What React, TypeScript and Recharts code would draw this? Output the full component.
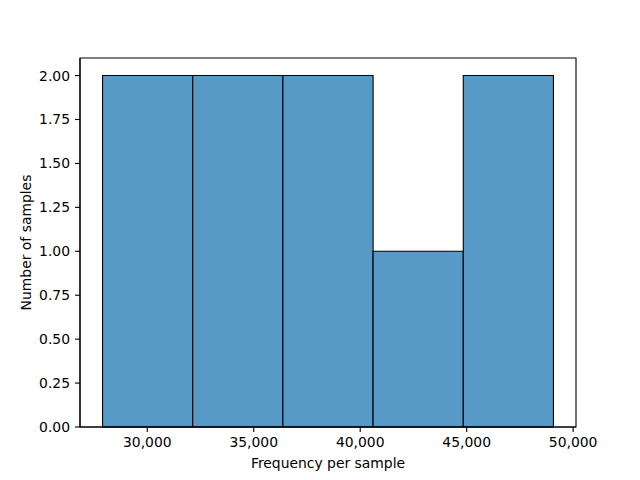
import React from 'react';
import { ComposedChart, XAxis, YAxis, ReferenceArea, Line } from 'recharts';

// Histogram bins (edges) and counts
const binEdges = [27900, 32135, 36370, 40605, 44840, 49075];
const counts = [2, 2, 2, 1, 2];
const xTicks = [30000, 35000, 40000, 45000, 50000];
const yTicks = [0, 0.25, 0.5, 0.75, 1.0, 1.25, 1.5, 1.75, 2.0];
const xDomain = [26841, 50134];
const yDomain = [0, 2.1];

const data = counts.map((c, i) => ({
  center: (binEdges[i] + binEdges[i + 1]) / 2,
  count: c,
}));

const FONT = 'DejaVu Sans';
const FS = 13.9;

export default function App() {
  if (typeof document !== 'undefined') document.body.style.margin = '0';
  return (
    <div style={{ width: 640, height: 480, background: '#fff' }}>
      <ComposedChart
        width={640}
        height={480}
        data={data}
        margin={{ top: 58, right: 64, bottom: 0, left: 0 }}
      >
        <XAxis
          dataKey="center"
          type="number"
          domain={xDomain}
          allowDataOverflow
          ticks={xTicks}
          tickFormatter={(v: number) => v.toLocaleString('en-US')}
          height={53}
          tickSize={5}
          tickMargin={5}
          stroke="#000"
          strokeWidth={1.1}
          tick={{ fill: '#000', fontSize: FS, fontFamily: FONT }}
          label={{
            content: (props: any) => {
              const vb = props.viewBox;
              return (
                <text
                  x={vb.x + vb.width / 2}
                  y={vb.y + 41}
                  textAnchor="middle"
                  fontFamily={FONT}
                  fontSize={FS}
                  fill="#000"
                >
                  Frequency per sample
                </text>
              );
            },
          }}
        />
        <YAxis
          type="number"
          domain={yDomain}
          allowDataOverflow
          ticks={yTicks}
          tickFormatter={(v: number) => v.toFixed(2)}
          width={80}
          tickSize={5}
          tickMargin={5}
          stroke="#000"
          strokeWidth={1.1}
          tick={{ fill: '#000', fontSize: FS, fontFamily: FONT }}
          label={{
            content: (props: any) => {
              const vb = props.viewBox;
              const x = vb.x + 31;
              const y = vb.y + vb.height / 2;
              return (
                <text
                  x={x}
                  y={y}
                  transform={`rotate(-90, ${x}, ${y})`}
                  textAnchor="middle"
                  fontFamily={FONT}
                  fontSize={FS}
                  fill="#000"
                >
                  Number of samples
                </text>
              );
            },
          }}
        />
        {counts.map((c, i) => (
          <ReferenceArea
            key={i}
            x1={binEdges[i]}
            x2={binEdges[i + 1]}
            y1={0}
            y2={c}
            fill="#5799c7"
            fillOpacity={1}
            stroke="#000"
            strokeWidth={1.1}
            ifOverflow="visible"
          />
        ))}
        <ReferenceArea
          x1={xDomain[0]}
          x2={xDomain[1]}
          y1={yDomain[0]}
          y2={yDomain[1]}
          fill="none"
          fillOpacity={0}
          stroke="#000"
          strokeWidth={1.1}
          ifOverflow="visible"
        />
        <Line dataKey="count" stroke="none" dot={false} activeDot={false} isAnimationActive={false} />
      </ComposedChart>
    </div>
  );
}
